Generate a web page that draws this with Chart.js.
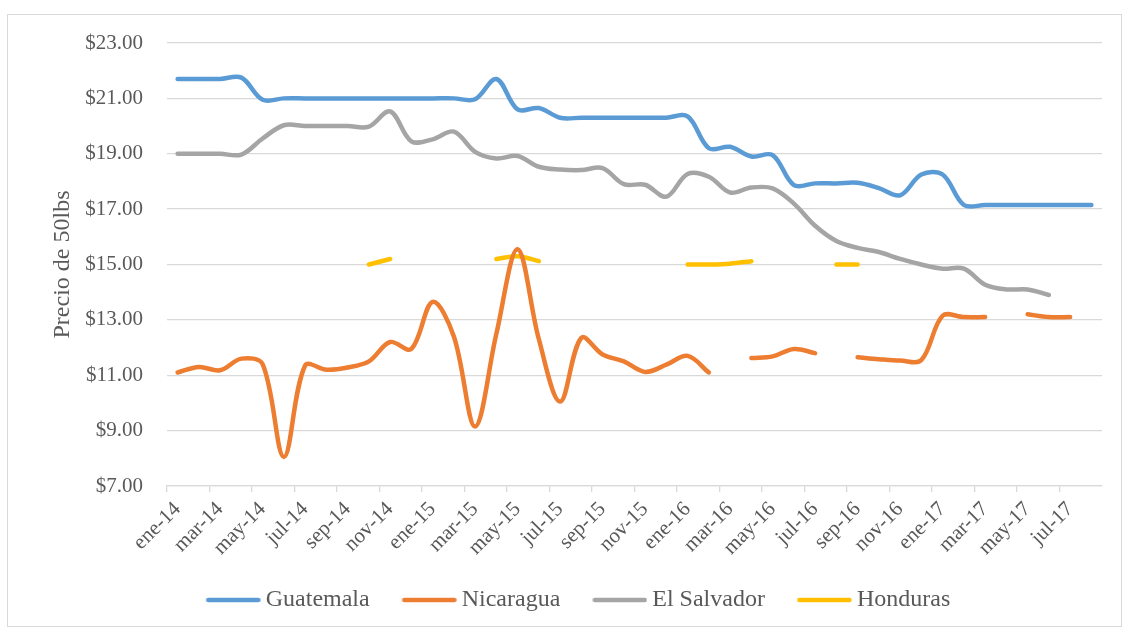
<!DOCTYPE html>
<html>
<head>
<meta charset="utf-8">
<script src="https://cdn.jsdelivr.net/npm/chart.js@4.4.0/dist/chart.umd.min.js"></script>
<style>
    body { margin: 0; background: #fff; }
    #wrap { position: relative; width: 1128px; height: 631px; }
    #marco { position: absolute; left: 7px; top: 14px; width: 1113px; height: 611px; border: 1px solid #d9d9d9; }
    canvas { position: absolute; left: 0; top: 0; }
</style>
</head>
<body>
<div id="wrap">
    <div id="marco"></div>
    <canvas id="preciosChart" width="1128" height="631"></canvas>
</div>
<script>
// Datos (precio por 50 lbs)
var meses = [
    'ene-14', 'feb-14', 'mar-14', 'abr-14', 'may-14', 'jun-14', 'jul-14', 'ago-14', 'sep-14', 'oct-14', 'nov-14', 'dic-14',
    'ene-15', 'feb-15', 'mar-15', 'abr-15', 'may-15', 'jun-15', 'jul-15', 'ago-15', 'sep-15', 'oct-15', 'nov-15', 'dic-15',
    'ene-16', 'feb-16', 'mar-16', 'abr-16', 'may-16', 'jun-16', 'jul-16', 'ago-16', 'sep-16', 'oct-16', 'nov-16', 'dic-16',
    'ene-17', 'feb-17', 'mar-17', 'abr-17', 'may-17', 'jun-17', 'jul-17', 'ago-17'
];

var guatemala = [
    21.7, 21.7, 21.7, 21.75, 20.95, 21.0, 21.0, 21.0, 21.0, 21.0, 21.0, 21.0,
    21.0, 21.0, 20.97, 21.7, 20.6, 20.65, 20.3, 20.3, 20.3, 20.3, 20.3, 20.3,
    20.35, 19.2, 19.25, 18.9, 18.95, 17.87, 17.93, 17.93, 17.95, 17.76, 17.5, 18.25,
    18.25, 17.15, 17.15, 17.15, 17.15, 17.15, 17.15, 17.15
];

var nicaragua = [
    11.1, 11.3, 11.18, 11.6, 11.4, 8.05, 11.35, 11.2, 11.28, 11.5, 12.2, 11.95,
    13.65, 12.4, 9.15, 12.5, 15.55, 12.3, 10.05, 12.35, 11.75, 11.5, 11.12, 11.38,
    11.7, 11.1, null, 11.62, 11.68, 11.95, 11.8, null, 11.65, 11.58, 11.53, 11.55,
    13.15, 13.1, 13.1, null, 13.2, 13.1, 13.1, null
];

var elSalvador = [
    19.0, 19.0, 19.0, 18.97, 19.55, 20.03, 20.0, 20.0, 20.0, 19.98, 20.53, 19.45,
    19.52, 19.8, 19.07, 18.83, 18.92, 18.53, 18.43, 18.41, 18.48, 17.9, 17.88, 17.45,
    18.27, 18.17, 17.6, 17.78, 17.75, 17.2, 16.4, 15.85, 15.6, 15.45, 15.2, 15.0,
    14.85, 14.85, 14.27, 14.1, 14.1, 13.9, null, null
];

var honduras = [
    null, null, null, null, null, null, null, null, null, 15.0, 15.2, null,
    null, null, null, 15.2, 15.3, 15.12, null, null, null, null, null, null,
    15.0, 15.0, 15.03, 15.12, null, null, null, 15.0, 15.0, null, null, null,
    null, null, null, null, null, null, null, null
];

var paises = ['Guatemala', 'Nicaragua', 'El Salvador', 'Honduras'];
var colores = ['#5B9BD5', '#ED7D31', '#A5A5A5', '#FFC000'];
var series = [guatemala, nicaragua, elSalvador, honduras];

// muestra de linea para la leyenda
function muestraLinea(color) {
    var c = document.createElement('canvas');
    c.width = 62;
    c.height = 8;
    var g = c.getContext('2d');
    g.strokeStyle = color;
    g.lineWidth = 4.5;
    g.lineCap = 'round';
    g.beginPath();
    g.moveTo(9.5, 4);
    g.lineTo(59.5, 4);
    g.stroke();
    return c;
}

Chart.defaults.font.family = "'Liberation Serif', 'Times New Roman', serif";
Chart.defaults.color = '#595959';

var datasets = series.map(function (datos, i) {
    return {
        label: paises[i],
        data: datos,
        borderColor: colores[i],
        backgroundColor: colores[i],
        borderWidth: 4.5,
        borderCapStyle: 'round',
        borderJoinStyle: 'round',
        pointRadius: 0,
        pointStyle: muestraLinea(colores[i]),
        tension: 0.35,
        spanGaps: false,
        fill: false
    };
});

var ctx = document.getElementById('preciosChart').getContext('2d');

var myChart = new Chart(ctx, {
    type: 'line',
    data: {
        labels: meses,
        datasets: datasets
    },
    options: {
        responsive: false,
        animation: false,
        layout: {
            padding: { left: 54, right: 26, top: 43, bottom: 9 }
        },
        scales: {
            x: {
                offset: true,
                grid: {
                    offset: true,
                    drawOnChartArea: false,
                    drawTicks: true,
                    tickLength: 6,
                    lineWidth: 1.3,
                    color: function (c) { return c.index % 2 === 0 ? '#d9d9d9' : 'rgba(0,0,0,0)'; }
                },
                border: { color: '#d9d9d9', width: 1.3 },
                ticks: {
                    autoSkip: false,
                    maxRotation: 45,
                    minRotation: 45,
                    padding: 5,
                    font: { size: 21 },
                    callback: function (val, i) {
                        return i % 2 === 0 ? this.getLabelForValue(val) : '';
                    }
                },
                afterFit: function (scale) { scale.height = 70; }
            },
            y: {
                min: 7,
                max: 23,
                ticks: {
                    stepSize: 2,
                    padding: 24,
                    font: { size: 21 },
                    callback: function (v) { return '$' + v.toFixed(2); }
                },
                grid: {
                    color: '#d9d9d9',
                    lineWidth: 1.3,
                    drawTicks: false
                },
                border: { display: false },
                title: {
                    display: true,
                    text: 'Precio de 50lbs',
                    font: { size: 24 },
                    padding: { top: -6, bottom: 0 }
                },
                afterFit: function (scale) { scale.width = 113; }
            }
        },
        plugins: {
            legend: {
                position: 'bottom',
                labels: {
                    usePointStyle: true,
                    pointStyleWidth: 48,
                    padding: 32,
                    font: { size: 24 }
                }
            },
            tooltip: { enabled: false }
        }
    }
});
</script>
</body>
</html>
